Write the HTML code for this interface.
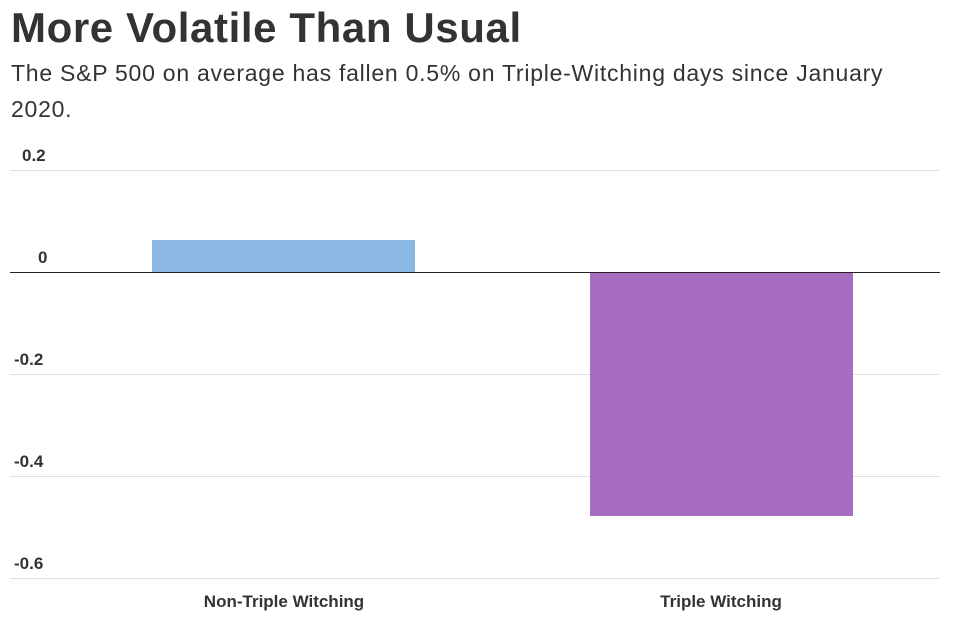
<!DOCTYPE html>
<html><head><meta charset="utf-8"><style>
body{margin:0;width:955px;height:618px;background:#fff;font-family:"Liberation Sans",sans-serif;color:#333;position:relative;overflow:hidden}
.t{position:absolute;left:11px;top:4px;font-size:42px;font-weight:bold;color:#333;letter-spacing:0.6px}
.s{position:absolute;left:11px;top:55px;font-size:23px;line-height:36px;color:#333;width:900px;letter-spacing:0.75px}
.g{position:absolute;left:10px;width:930px;height:1px;background:#e0e0e0}
.l{position:absolute;left:14px;font-size:17px;font-weight:bold;color:#333}
.c{position:absolute;top:592px;font-size:17px;font-weight:bold;color:#333;text-align:center;width:300px}
</style></head><body>
<div class="t">More Volatile Than Usual</div>
<div class="s">The S&amp;P 500 on average has fallen 0.5% on Triple-Witching days since January 2020.</div>
<div class="g" style="top:170px"></div>
<div class="g" style="top:374px"></div>
<div class="g" style="top:476px"></div>
<div class="g" style="top:578px"></div>
<div class="l" style="top:146px;left:22px">0.2</div>
<div class="l" style="top:248px;left:38px">0</div>
<div class="l" style="top:350px">-0.2</div>
<div class="l" style="top:452px">-0.4</div>
<div class="l" style="top:554px">-0.6</div>
<div style="position:absolute;left:152px;top:240px;width:263px;height:32px;background:#8bb8e4"></div>
<div style="position:absolute;left:590px;top:272px;width:263px;height:244px;background:#a76dc0"></div>
<div class="g" style="top:272px;background:#222"></div>
<div class="c" style="left:134px">Non-Triple Witching</div>
<div class="c" style="left:571px">Triple Witching</div>
</body></html>
